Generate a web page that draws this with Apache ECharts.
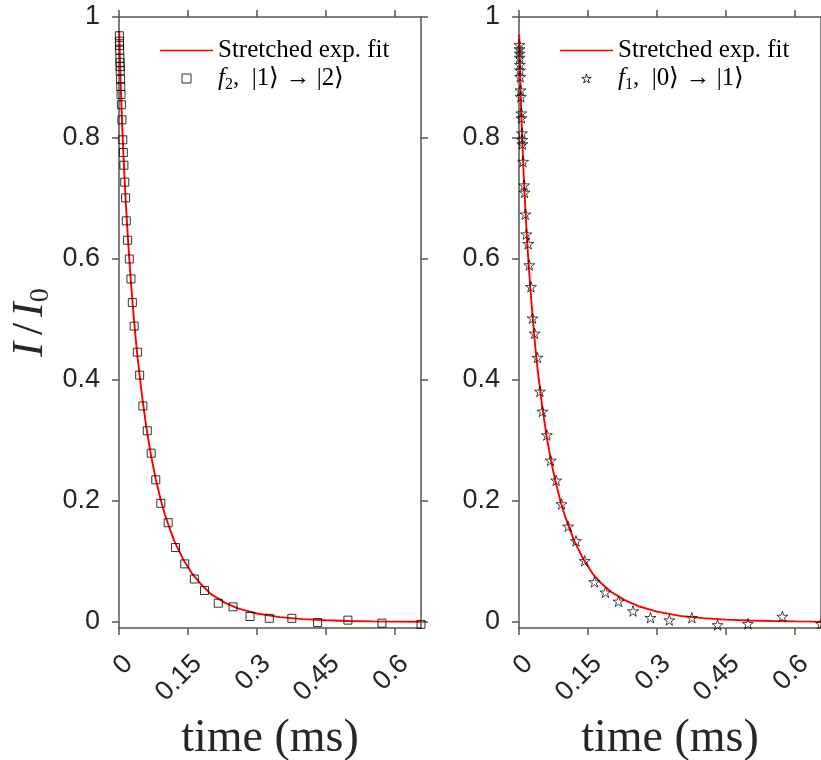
<!DOCTYPE html>
<html>
<head>
<meta charset="utf-8">
<script src="https://cdn.jsdelivr.net/npm/echarts@6/dist/echarts.min.js"></script>
<style>
html,body{margin:0;padding:0;background:#fff;}
#chart{width:821px;height:760px;}
</style>
</head>
<body>
<div id="chart"></div>
<script>
// ---- data (time in ms, normalized intensity) ----
const leftT = [0.00073,0.0010,0.00123,0.0015,0.00196,0.00222,0.00249,0.00276,0.00334,0.00386,0.00444,0.00523,0.00648,0.00825,0.00946,0.0107,0.0125,0.0143,0.0159,0.0187,0.0224,0.026,0.029,0.033,0.040,0.045,0.052,0.0615,0.070,0.080,0.091,0.107,0.123,0.143,0.164,0.186,0.216,0.248,0.285,0.327,0.376,0.432,0.498,0.572,0.657];
const leftY = [0.969,0.960,0.953,0.945,0.932,0.925,0.918,0.911,0.897,0.885,0.872,0.855,0.830,0.797,0.776,0.755,0.727,0.701,0.663,0.631,0.600,0.567,0.528,0.489,0.446,0.408,0.357,0.316,0.279,0.235,0.196,0.164,0.123,0.096,0.071,0.052,0.031,0.025,0.009,0.006,0.006,-0.001,0.003,-0.002,-0.004];

const rightT = [0.00091,0.00109,0.00129,0.0015,0.00187,0.00217,0.00255,0.00336,0.0038,0.00494,0.0053,0.00647,0.00702,0.00737,0.00893,0.01123,0.0120,0.0137,0.0159,0.020,0.0224,0.026,0.0296,0.034,0.040,0.0455,0.051,0.0607,0.0687,0.081,0.0926,0.107,0.124,0.143,0.164,0.188,0.2165,0.248,0.286,0.327,0.376,0.432,0.498,0.573,0.657];
const rightY = [0.954,0.947,0.940,0.933,0.921,0.912,0.901,0.879,0.868,0.841,0.833,0.808,0.797,0.790,0.761,0.722,0.710,0.674,0.641,0.625,0.590,0.554,0.502,0.477,0.437,0.381,0.348,0.309,0.267,0.234,0.195,0.158,0.134,0.101,0.066,0.049,0.034,0.018,0.007,0.003,0.007,-0.005,-0.003,0.009,-0.003];

// fitted stretched-exponential curves
const fitT      = [0.0005,0.001,0.002,0.004,0.006,0.008,0.010,0.0125,0.015,0.0175,0.020,0.025,0.030,0.035,0.040,0.050,0.060,0.070,0.080,0.090,0.100,0.120,0.140,0.160,0.180,0.200,0.230,0.260,0.300,0.350,0.400,0.450,0.500,0.550,0.600,0.657];
const leftFitY  = [0.977,0.960,0.931,0.882,0.839,0.801,0.767,0.727,0.691,0.658,0.627,0.571,0.523,0.479,0.440,0.374,0.319,0.274,0.236,0.204,0.177,0.134,0.103,0.079,0.061,0.046,0.032,0.022,0.014,0.008,0.0047,0.0028,0.0016,0.0010,0.0006,0.0003];
const rightFitY = [0.971,0.950,0.917,0.863,0.818,0.778,0.742,0.702,0.666,0.633,0.602,0.548,0.501,0.458,0.421,0.359,0.307,0.265,0.230,0.200,0.175,0.134,0.104,0.080,0.063,0.050,0.036,0.026,0.017,0.010,0.0063,0.0039,0.0025,0.0016,0.0010,0.0006];

const xTicks = [0, 0.15, 0.3, 0.45, 0.6];
const yTicks = [0, 0.2, 0.4, 0.6, 0.8, 1];

const fitName = 'Stretched exp. fit';
const leftName = 'f2, |1⟩ → |2⟩';
const rightName = 'f1, |0⟩ → |1⟩';

// ---- styling ----
const axisColor = '#555555';
const textColor = '#262626';
const X_MIN = 0, X_MAX = 0.657, Y_MIN = -0.01, Y_MAX = 1;
const starPath = 'path://M50,2 L61,37 L98,37 L68,59 L79,94 L50,72 L21,94 L32,59 L2,37 L39,37 Z';
const squarePath = 'path://M0,0 L10,0 L10,10 L0,10 Z';
const linePath = 'path://M0,0 L100,0 L100,2.8 L0,2.8 Z';

function pairs(xs, ys) { return xs.map((x, i) => [x, ys[i]]); }

function xAxis(grid, pos, labels) {
  return {
    type: 'value', gridIndex: grid, position: pos, min: X_MIN, max: X_MAX,
    axisLine: { show: true, onZero: false, lineStyle: { color: axisColor, width: 1.5 } },
    axisTick: { show: true, inside: false, length: 7, customValues: xTicks, lineStyle: { color: axisColor, width: 1.5 } },
    axisLabel: { show: labels, customValues: xTicks, rotate: 45, margin: 22, verticalAlign: 'top', fontSize: 27, fontFamily: 'Liberation Sans, Arial, sans-serif', color: textColor },
    splitLine: { show: false },
    name: labels ? 'time (ms)' : '', nameLocation: 'middle', nameGap: 88,
    nameTextStyle: { fontFamily: 'Liberation Serif, serif', fontSize: 46, color: textColor }
  };
}
function yAxis(grid, pos, labels, name) {
  return {
    type: 'value', gridIndex: grid, position: pos, min: Y_MIN, max: Y_MAX,
    axisLine: { show: true, onZero: false, lineStyle: { color: axisColor, width: 1.5 } },
    axisTick: { show: true, inside: false, length: 7, customValues: yTicks, lineStyle: { color: axisColor, width: 1.5 } },
    axisLabel: { show: labels, customValues: yTicks, margin: 19, fontSize: 27, fontFamily: 'Liberation Sans, Arial, sans-serif', color: textColor },
    splitLine: { show: false },
    name: name ? '{i|I}{n|/}{i|I}{s|0}' : '', nameLocation: 'middle', nameGap: 64, nameRotate: 90,
    nameTextStyle: {
      color: textColor,
      rich: {
        i: { fontFamily: 'Liberation Serif, serif', fontStyle: 'italic', fontSize: 44, color: textColor, lineHeight: 50 },
        n: { fontFamily: 'Liberation Serif, serif', fontSize: 44, color: textColor, lineHeight: 50, padding: [0, 6, 0, 7] },
        s: { fontFamily: 'Liberation Serif, serif', fontSize: 28, color: textColor, verticalAlign: 'bottom', lineHeight: 50 }
      }
    }
  };
}

const legendRich = {
  n: { fontFamily: 'Liberation Serif, serif', fontSize: 25, color: '#000', lineHeight: 28 },
  it: { fontFamily: 'Liberation Serif, serif', fontStyle: 'italic', fontSize: 25, color: '#000', lineHeight: 28 },
  sub: { fontFamily: 'Liberation Serif, serif', fontSize: 16, color: '#000', verticalAlign: 'bottom', lineHeight: 28 }
};
function legendFmt(name) {
  if (name === fitName) return '{n|' + name + '}';
  const m = name.match(/^f(\d), (.*)$/);
  return '{it|f}{sub|' + m[1] + '}{n|,  ' + m[2] + '}';
}
function legend(left, markerName, markerIcon) {
  return {
    left: left, top: 33, orient: 'vertical', itemWidth: 53, itemHeight: 9, itemGap: 3,
    symbolKeepAspect: true,
    data: [
      { name: fitName, icon: linePath, itemStyle: { color: '#ff0000', borderWidth: 0 } },
      { name: markerName, icon: markerIcon, itemStyle: { color: 'rgba(0,0,0,0)', borderColor: '#000', borderWidth: 1 } }
    ],
    formatter: legendFmt, selectedMode: false,
    textStyle: { rich: legendRich }
  };
}

const chart = echarts.init(document.getElementById('chart'), null, { renderer: 'canvas' });
chart.setOption({
  animation: false,
  backgroundColor: '#ffffff',
  grid: [
    { left: 119, top: 17, width: 302, height: 611, containLabel: false, outerBoundsMode: 'none' },
    { left: 519, top: 17, width: 302, height: 611, containLabel: false, outerBoundsMode: 'none' }
  ],
  legend: [ legend(155, leftName, squarePath), legend(555, rightName, starPath) ],
  xAxis: [ xAxis(0, 'bottom', true), xAxis(0, 'top', false), xAxis(1, 'bottom', true), xAxis(1, 'top', false) ],
  yAxis: [ yAxis(0, 'left', true, true), yAxis(0, 'right', false, false), yAxis(1, 'left', true, false), yAxis(1, 'right', false, false) ],
  series: [
    { name: fitName, type: 'line', xAxisIndex: 0, yAxisIndex: 0, data: pairs(fitT, leftFitY), showSymbol: false, symbol: 'none', lineStyle: { color: '#ff0000', width: 1.9 }, itemStyle: { color: '#ff0000' }, z: 2 },
    { name: leftName, type: 'scatter', xAxisIndex: 0, yAxisIndex: 0, data: pairs(leftT, leftY), symbol: 'rect', symbolSize: 8, clip: false,
      itemStyle: { color: 'rgba(0,0,0,0)', borderColor: '#000', borderWidth: 1 }, z: 3 },
    { name: fitName, type: 'line', xAxisIndex: 2, yAxisIndex: 2, data: pairs(fitT, rightFitY), showSymbol: false, symbol: 'none', lineStyle: { color: '#ff0000', width: 1.9 }, itemStyle: { color: '#ff0000' }, z: 2 },
    { name: rightName, type: 'scatter', xAxisIndex: 2, yAxisIndex: 2, data: pairs(rightT, rightY), symbol: starPath, symbolSize: 11, symbolKeepAspect: true, clip: false,
      itemStyle: { color: 'rgba(0,0,0,0)', borderColor: '#000', borderWidth: 0.9 }, z: 3 }
  ]
});
</script>
</body>
</html>
